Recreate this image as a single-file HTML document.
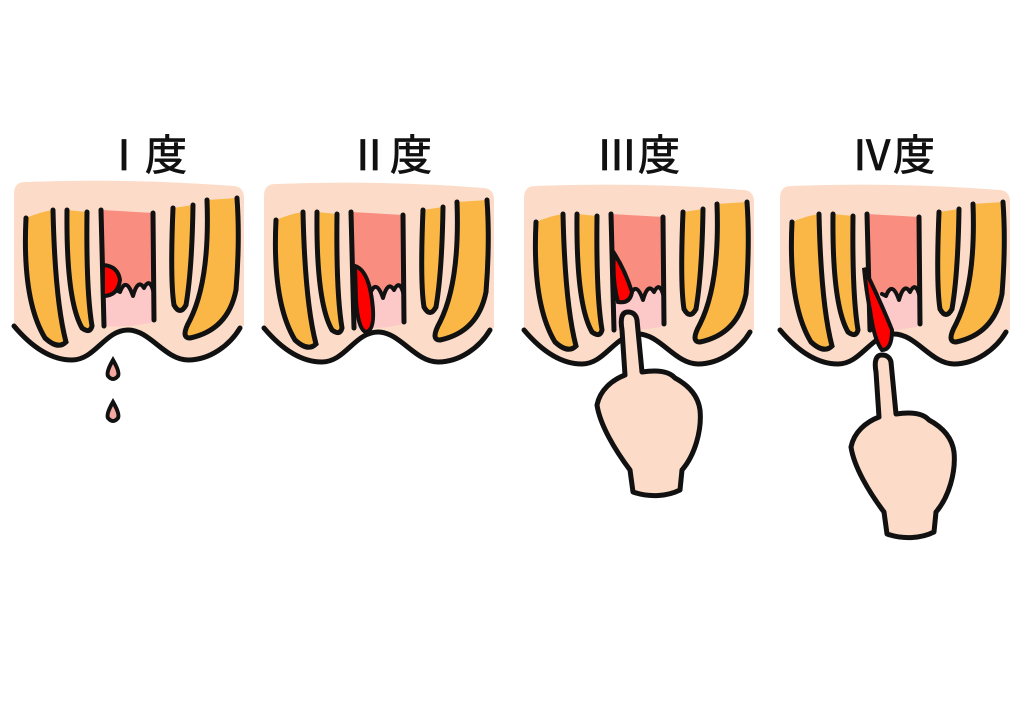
<!DOCTYPE html>
<html><head><meta charset="utf-8"><style>
html,body{margin:0;padding:0;background:#fff;}
svg{display:block;}
text{font-family:"Liberation Sans","Noto Sans CJK JP",sans-serif;font-size:42px;fill:#111;stroke:#111;stroke-width:0.8;}
</style></head><body>
<svg width="1024" height="724" viewBox="0 0 1024 724" xmlns="http://www.w3.org/2000/svg">
<defs>
<g id="panel">
  <path d="M25,182 Q130,178 234,186 Q244,187 244,198 L244,325 C230,345 210,360 188,360 C165,360 150,330 128,330 C105,330 95,360 72,360 C50,360 30,345 14,326 L14,194 Q14,182 25,182 Z" fill="#fcdcc8"/>
  <path d="M101,210 L153,213 L154,322 Q128,328 104,326 Z" fill="#fcc8c8"/>
  <path d="M101,210 L153,213 L154,294 Q150,276 144,288 Q138,278 133,296 Q126,276 120,292 L103,288 Z" fill="#f98d80"/>
  <path d="M116,290 L120,292 Q126,276 133,296 Q138,278 144,288 Q150,276 154,294" fill="none" stroke="#111" stroke-width="4" stroke-linecap="round" stroke-linejoin="round"/>
  <path d="M101,210 L104,326 M153,213 L154,320" fill="none" stroke="#111" stroke-width="5" stroke-linecap="round"/>
  <path d="M26,218 Q22,300 45,338 Q58,350 66,342 Q55,300 53,210 Q40,212 26,218Z" fill="#fbb745"/>
  <path d="M26,218 Q22,300 45,338 Q58,350 66,342 Q55,300 53,210" fill="none" stroke="#111" stroke-width="5" stroke-linecap="round"/>
  <path d="M67,210 Q66,300 82,328 Q90,334 92,326 Q86,290 87,212 Z" fill="#fbb745"/>
  <path d="M67,210 Q66,300 82,328 Q90,334 92,326 Q86,290 87,212" fill="none" stroke="#111" stroke-width="5" stroke-linecap="round"/>
  <path d="M173,208 Q170,280 174,305 Q180,316 186,305 Q192,270 193,205 Z" fill="#fbb745"/>
  <path d="M173,208 Q170,280 174,305 Q180,316 186,305 Q192,270 193,205" fill="none" stroke="#111" stroke-width="5" stroke-linecap="round"/>
  <path d="M207,200 Q210,280 190,320 Q180,338 190,338 Q228,330 236,290 Q240,240 237,198 Z" fill="#fbb745"/>
  <path d="M207,200 Q210,280 190,320 Q180,338 190,338 Q228,330 236,290 Q240,240 237,198" fill="none" stroke="#111" stroke-width="5" stroke-linecap="round"/>
  <path d="M14,326 C30,345 50,360 72,360 C95,360 105,330 128,330 C150,330 165,360 188,360 C210,360 230,345 240,328" fill="none" stroke="#111" stroke-width="5" stroke-linecap="round"/>
</g>
</defs>

<text x="145" y="170" text-anchor="middle">Ⅰ度</text>
<text x="390" y="170" text-anchor="middle">Ⅱ度</text>
<text x="638" y="170" text-anchor="middle">Ⅲ度</text>
<text x="893" y="170" text-anchor="middle">Ⅳ度</text>

<use href="#panel"/>
<use href="#panel" transform="translate(250,2)"/>
<use href="#panel" transform="translate(510,4)"/>
<use href="#panel" transform="translate(766,4)"/>

<path d="M103,265 Q118,266 120,280 Q118,296 103,296 Z" fill="#f00" stroke="#111" stroke-width="4"/>
<path d="M113,360 Q106,372 108,376 Q113,382 118,376 Q120,372 113,360Z" fill="#f5a8a0" stroke="#111" stroke-width="4"/>
<path d="M113,402 Q106,414 108,418 Q113,424 118,418 Q120,414 113,402Z" fill="#f5a8a0" stroke="#111" stroke-width="4"/>

<path d="M355,266 Q368,270 372,300 Q376,330 366,332 Q358,330 356,300 Z" fill="#f00" stroke="#111" stroke-width="4"/>

<path d="M614,253 Q625,270 632,292 Q630,304 618,302 Q612,280 614,253Z" fill="#f00" stroke="#111" stroke-width="4"/>
<path d="M628,312 C622,312 620,318 622,330 L625,375 C612,380 600,390 597,405 C600,425 615,450 630,470 L633,492 C650,498 668,496 680,490 L682,470 C695,455 702,430 700,410 C698,395 688,385 675,378 C668,370 655,370 642,372 L637,320 C636,314 632,312 628,312Z" fill="#fcdcc8" stroke="#111" stroke-width="5" stroke-linejoin="round"/>

<path d="M864,268 Q880,300 892,330 Q892,350 882,350 Q874,340 870,310 Q866,290 864,268Z" fill="#f00" stroke="#111" stroke-width="4"/>
<path d="M882,355 C876,355 874,361 876,372 L879,417 C866,422 854,432 851,447 C854,467 869,492 884,512 L887,534 C904,540 922,538 934,532 L936,512 C949,497 956,472 954,452 C952,437 942,427 929,420 C922,412 909,412 896,414 L891,362 C890,357 886,355 882,355Z" fill="#fcdcc8" stroke="#111" stroke-width="5" stroke-linejoin="round"/>
</svg>
</body></html>
